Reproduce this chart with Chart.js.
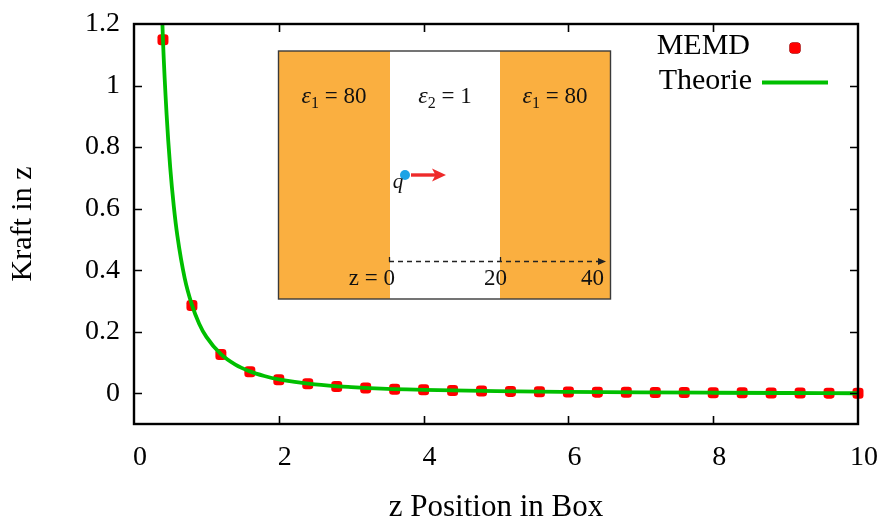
<!DOCTYPE html>
<html>
<head>
<meta charset="utf-8">
<script src="https://cdn.jsdelivr.net/npm/chart.js@4.4.1/dist/chart.umd.min.js"></script>
<style>
  html, body { margin: 0; padding: 0; background: #ffffff; }
  #wrap { width: 882px; height: 520px; }
</style>
</head>
<body>
<div id="wrap"><canvas id="chart" width="882" height="520"></canvas></div>
<script>
// Simulated force (MEMD) at sampled z positions
const memdZ = [0.4, 0.8, 1.2, 1.6, 2.0, 2.4, 2.8, 3.2, 3.6, 4.0, 4.4, 4.8, 5.2,
               5.6, 6.0, 6.4, 6.8, 7.2, 7.6, 8.0, 8.4, 8.8, 9.2, 9.6, 10.0];
const memdKraft = [1.149, 0.285, 0.126, 0.070, 0.044, 0.031, 0.022, 0.017, 0.013,
                   0.011, 0.009, 0.007, 0.006, 0.005, 0.004, 0.0035, 0.003, 0.0025,
                   0.002, 0.0015, 0.0012, 0.0009, 0.0006, 0.0003, 0.0];

// Theoretical image-charge force curve
const theorieZ = [0.35, 0.4, 0.45, 0.5, 0.55, 0.6, 0.7, 0.8, 0.9, 1.0, 1.2, 1.4,
                  1.6, 1.8, 2.0, 2.5, 3.0, 3.5, 4.0, 5.0, 6.0, 7.0, 8.0, 9.0, 10.0];
const theorieKraft = [1.50, 1.148, 0.907, 0.734, 0.607, 0.510, 0.374, 0.287, 0.226,
                      0.183, 0.127, 0.093, 0.071, 0.056, 0.045, 0.029, 0.020, 0.014,
                      0.011, 0.0066, 0.0042, 0.0027, 0.0016, 0.0008, 0.0];

// Axis ticks
const xTicks = [0, 2, 4, 6, 8, 10];
const xTickLabels = ['0', '2', '4', '6', '8', '10'];
const yTicks = [0, 0.2, 0.4, 0.6, 0.8, 1, 1.2];
const yTickLabels = ['0', '0.2', '0.4', '0.6', '0.8', '1', '1.2'];

const SERIF = '"Liberation Serif", "Times New Roman", serif';
const RED = '#ff0000';
const GREEN = '#00bf00';

function zip(xs, ys) { return xs.map((x, i) => ({ x: x, y: ys[i] })); }

// Closed frame with inward ticks on all four sides
const framePlugin = {
  id: 'frame',
  afterDatasetsDraw(chart) {
    const { ctx, chartArea: a, scales } = chart;
    const tl = 8;
    ctx.save();
    ctx.strokeStyle = '#000';
    ctx.lineWidth = 1.6;
    ctx.beginPath();
    scales.x.ticks.forEach(t => {
      const px = Math.round(scales.x.getPixelForValue(t.value)) + 0.5;
      if (px <= a.left + 1 || px >= a.right - 1) return;
      ctx.moveTo(px, a.bottom); ctx.lineTo(px, a.bottom - tl);
      ctx.moveTo(px, a.top); ctx.lineTo(px, a.top + tl);
    });
    scales.y.ticks.forEach(t => {
      const py = Math.round(scales.y.getPixelForValue(t.value)) + 0.5;
      if (py <= a.top + 1 || py >= a.bottom - 1) return;
      ctx.moveTo(a.left, py); ctx.lineTo(a.left + tl, py);
      ctx.moveTo(a.right, py); ctx.lineTo(a.right - tl, py);
    });
    ctx.stroke();
    ctx.lineWidth = 2.4;
    ctx.strokeRect(a.left, a.top, a.right - a.left, a.bottom - a.top);
    ctx.restore();
  }
};

// Key in the top right corner: label on the left, sample on the right
const keyPlugin = {
  id: 'key',
  afterDatasetsDraw(chart) {
    const ctx = chart.ctx;
    const ds = chart.data.datasets;
    ctx.save();
    ctx.font = '30px ' + SERIF;
    ctx.fillStyle = '#000';
    ctx.textAlign = 'right';
    ctx.textBaseline = 'middle';
    ctx.fillText(ds[0].label, 750, 46);
    ctx.fillText(ds[1].label, 752, 81);
    // point sample
    Chart.helpers.drawPoint(ctx, {
      pointStyle: ds[0].pointStyle, radius: ds[0].pointRadius, borderWidth: 0, rotation: 0
    }, 795, 48);
    ctx.fillStyle = ds[0].backgroundColor;
    ctx.fill();
    // line sample
    ctx.strokeStyle = ds[1].borderColor;
    ctx.lineWidth = ds[1].borderWidth;
    ctx.beginPath();
    ctx.moveTo(762, 82.5); ctx.lineTo(828, 82.5);
    ctx.stroke();
    ctx.restore();
  }
};

// Sketch of the slab geometry: two dielectric regions around a vacuum gap
function mathLabel(ctx, cx, base, sub, rest) {
  const big = '23px ' + SERIF, small = '16px ' + SERIF, ital = 'italic 24px ' + SERIF;
  ctx.font = ital; const wE = ctx.measureText('\u03b5').width;
  ctx.font = small; const wS = ctx.measureText(sub).width;
  ctx.font = big; const wR = ctx.measureText(rest).width;
  let x = cx - (wE + wS + wR) / 2;
  ctx.textAlign = 'left';
  ctx.textBaseline = 'alphabetic';
  ctx.font = ital; ctx.fillText('\u03b5', x, base); x += wE;
  ctx.font = small; ctx.fillText(sub, x, base + 5); x += wS;
  ctx.font = big; ctx.fillText(rest, x, base);
}

const insetPlugin = {
  id: 'inset',
  afterDatasetsDraw(chart) {
    const ctx = chart.ctx;
    const L = 278.5, T = 51, R = 610.5, B = 299;
    const s1 = 390, s2 = 500;
    ctx.save();
    ctx.fillStyle = '#ffffff';
    ctx.fillRect(L, T, R - L, B - T);
    ctx.fillStyle = '#faaf40';
    ctx.fillRect(L, T, s1 - L, B - T);
    ctx.fillRect(s2, T, R - s2, B - T);
    ctx.strokeStyle = '#3a3a3a';
    ctx.lineWidth = 1.4;
    ctx.strokeRect(L, T, R - L, B - T);

    ctx.fillStyle = '#111';
    mathLabel(ctx, 334, 103, '1', ' = 80');
    mathLabel(ctx, 445, 103, '2', ' = 1');
    mathLabel(ctx, 555, 103, '1', ' = 80');

    // dashed z axis with arrow
    ctx.strokeStyle = '#222';
    ctx.lineWidth = 1.3;
    ctx.setLineDash([5, 4]);
    ctx.beginPath();
    ctx.moveTo(389, 261.5); ctx.lineTo(600, 261.5);
    ctx.stroke();
    ctx.setLineDash([]);
    ctx.beginPath();
    ctx.moveTo(389.5, 257); ctx.lineTo(389.5, 261.5);
    ctx.moveTo(500.5, 257); ctx.lineTo(500.5, 261.5);
    ctx.stroke();
    ctx.fillStyle = '#222';
    ctx.beginPath();
    ctx.moveTo(606, 261.5); ctx.lineTo(598, 258); ctx.lineTo(598, 265); ctx.closePath();
    ctx.fill();

    ctx.fillStyle = '#111';
    ctx.font = '23px ' + SERIF;
    ctx.textBaseline = 'alphabetic';
    ctx.textAlign = 'right';
    ctx.fillText('z = 0', 395, 285);
    ctx.textAlign = 'center';
    ctx.fillText('20', 495.5, 285);
    ctx.fillText('40', 592.5, 285);

    // charge q and force arrow
    ctx.fillStyle = '#1ba3e6';
    ctx.beginPath();
    ctx.arc(405, 175, 5, 0, Math.PI * 2);
    ctx.fill();
    ctx.fillStyle = '#111';
    ctx.font = 'italic 21px ' + SERIF;
    ctx.textAlign = 'center';
    ctx.fillText('q', 398, 188);

    ctx.strokeStyle = '#ee2a2a';
    ctx.fillStyle = '#ee2a2a';
    ctx.lineWidth = 3.4;
    ctx.beginPath();
    ctx.moveTo(411, 175); ctx.lineTo(437, 175);
    ctx.stroke();
    ctx.beginPath();
    ctx.moveTo(446, 175); ctx.lineTo(432, 168.5); ctx.lineTo(435.5, 175); ctx.lineTo(432, 181.5);
    ctx.closePath();
    ctx.fill();
    ctx.restore();
  }
};

// invisible grid: only used to reserve the gap between axis and tick labels
const hiddenGrid = (gap) => ({
  display: true, drawOnChartArea: false, drawTicks: true,
  tickLength: gap, color: 'rgba(0,0,0,0)'
});

new Chart(document.getElementById('chart'), {
  type: 'scatter',
  data: {
    datasets: [
      {
        label: 'MEMD',
        data: zip(memdZ, memdKraft),
        pointStyle: 'rectRounded',
        pointRadius: 6.4,
        pointHoverRadius: 6.4,
        backgroundColor: RED,
        borderWidth: 0,
        showLine: false,
        clip: false,
        order: 2
      },
      {
        label: 'Theorie',
        data: zip(theorieZ, theorieKraft),
        showLine: true,
        borderColor: GREEN,
        borderWidth: 3.8,
        pointRadius: 0,
        pointHoverRadius: 0,
        cubicInterpolationMode: 'monotone',
        fill: false,
        clip: 0,
        order: 1
      }
    ]
  },
  options: {
    responsive: false,
    animation: false,
    devicePixelRatio: 1,
    layout: { padding: { top: 24, right: 24, left: 0, bottom: 0 } },
    plugins: {
      legend: { display: false },
      tooltip: { enabled: false }
    },
    scales: {
      x: {
        type: 'linear',
        min: 0, max: 10,
        afterBuildTicks: s => { s.ticks = xTicks.map(v => ({ value: v })); },
        afterFit: s => { s.height = 96; },
        grid: hiddenGrid(17),
        border: { display: false },
        ticks: {
          padding: 0,
          labelOffset: 6,
          maxRotation: 0,
          color: '#000',
          font: { family: SERIF, size: 28 },
          callback: (v, i) => xTickLabels[i]
        },
        title: {
          display: true,
          text: 'z Position in Box',
          color: '#000',
          font: { family: SERIF, size: 31, lineHeight: 0.78 },
          padding: { top: 0, bottom: 0 }
        }
      },
      y: {
        type: 'linear',
        min: -0.1, max: 1.2,
        afterBuildTicks: s => { s.ticks = yTicks.map(v => ({ value: v })); },
        afterFit: s => { s.width = 134; },
        grid: hiddenGrid(14),
        border: { display: false },
        ticks: {
          padding: 0,
          color: '#000',
          font: { family: SERIF, size: 28 },
          callback: (v, i) => yTickLabels[i]
        },
        title: {
          display: true,
          text: 'Kraft in z',
          color: '#000',
          font: { family: SERIF, size: 30, lineHeight: 1 },
          padding: { top: 8, bottom: 0 }
        }
      }
    }
  },
  plugins: [framePlugin, insetPlugin, keyPlugin]
});
</script>
</body>
</html>
